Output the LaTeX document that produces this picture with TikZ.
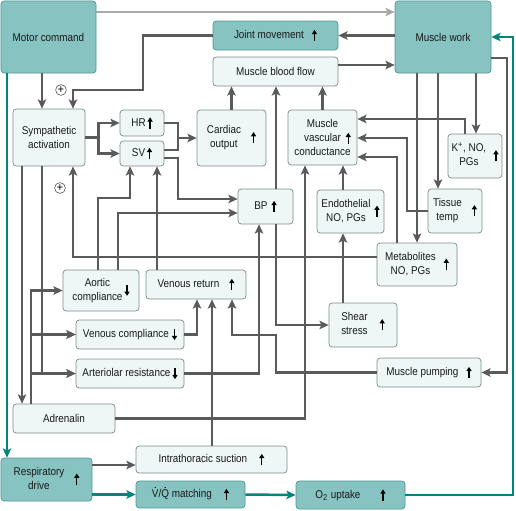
\documentclass[tikz,border=0pt]{standalone}
\usepackage{fontspec}
\setmainfont{Liberation Sans}[FakeStretch=0.88]
\usepackage{tikz}
\usetikzlibrary{arrows.meta}

\definecolor{tealfill}{HTML}{86C3C1}
\definecolor{tealedge}{HTML}{4E9A97}
\definecolor{boxfill}{HTML}{EEF6F6}
\definecolor{boxedge}{HTML}{7E8C8C}
\definecolor{linegray}{HTML}{5A5A5A}
\definecolor{lightline}{HTML}{A8A8A8}
\definecolor{tealline}{HTML}{00857C}

% small up / down marks inside the boxes
\newcommand{\upar}{\tikz[baseline={(0pt,1.8pt)}]\draw[black, sharp corners, line width=0.9pt, -{Triangle[length=3pt,width=3.6pt]}] (0pt,0pt) -- (0pt,8pt);}
\newcommand{\dnar}{\tikz[baseline={(0pt,1.8pt)}]\draw[black, sharp corners, line width=0.9pt, -{Triangle[length=3pt,width=3.6pt]}] (0pt,8pt) -- (0pt,0pt);}
\newcommand{\twoline}[2]{\begin{tabular}{@{}c@{}}#1\\#2\end{tabular}}
\newcommand{\dotted}[1]{\ooalign{#1\cr\hidewidth\tikz[baseline={(0pt,-7.2pt)}]\fill[black] (0pt,0pt) circle (0.5pt);\hidewidth\cr}}

\begin{document}
\begin{tikzpicture}[
  x=0.25mm, y=-0.25mm,
  box/.style={rectangle, draw=boxedge, fill=boxfill, rounded corners=0.8mm, line width=0.5pt,
              align=center, inner sep=1pt, font=\fontsize{8}{10}\selectfont, text=black!90},
  tealbox/.style={box, draw=tealedge, fill=tealfill},
  wh/.style 2 args={minimum width=#1mm, minimum height=#2mm},
  conn/.style={draw=linegray, line width=0.62mm, -{Stealth[length=2.3mm, width=2.1mm, inset=0.5mm]}},
  link/.style={draw=linegray, line width=0.62mm},
  tealconn/.style={conn, draw=tealline},
  greyconn/.style={conn, draw=lightline},
  plus/.style={circle, draw=black!70, fill=white, line width=0.4pt, inner sep=0pt,
               minimum size=2.7mm, font=\fontsize{8.5}{8.5}\selectfont}
]
\path[fill=white] (0,0) rectangle (516,510);

% boxes
\node[tealbox, wh={23.75}{18}] (motor) at (48.5,37) {Motor command};
\node[tealbox, wh={24}{18}] (work) at (443,37) {Muscle work};
\node[tealbox, wh={31.25}{7.25}] (joint) at (275.5,35.5) {Joint movement\hspace{2mm}\upar};
\node[box, wh={31.25}{7.25}] (mbf) at (275.5,71.5) {Muscle blood flow};
\node[box, wh={18}{14.25}] (symp) at (49,137.5) {Sympathetic\\activation};
\node[box, wh={11}{6.5}] (hr) at (142,123) {HR\,\upar};
\node[box, wh={11}{6.25}] (sv) at (142,153.5) {SV\,\upar};
\node[box, wh={17.25}{14}] (co) at (231.5,138) {\twoline{Cardiac}{output}\hspace{2.5mm}\upar};
\node[box, wh={17.25}{13.75}] (mvc) at (322.5,137.5) {Muscle\\vascular\rlap{\hspace{1.2mm}\upar}\\conductance};
\node[box, wh={13.5}{11}] (kno) at (475,156) {\twoline{K\textsuperscript{+}, NO,}{PGs}\hspace{1.8mm}\upar};
\node[box, wh={13.75}{8.75}] (bp) at (265.5,206.5) {BP\hspace{1mm}\upar};
\node[box, wh={16.75}{10.75}] (endo) at (350.5,211.5) {\twoline{Endothelial}{NO, PGs}\hspace{1mm}\upar};
\node[box, wh={13.5}{11}] (tissue) at (455,211) {\twoline{Tissue}{temp}\hspace{2.5mm}\upar};
\node[box, wh={20}{10.75}] (metab) at (417,264.5) {\twoline{Metabolites}{NO, PGs}\hspace{2mm}\upar};
\node[box, wh={19}{10.25}] (aortic) at (101,290.5) {\twoline{Aortic}{compliance}\hspace{0.5mm}\dnar};
\node[box, wh={25}{7.25}] (venret) at (196,284.5) {Venous return\hspace{2.5mm}\upar};
\node[box, wh={17}{11}] (shear) at (363,325) {\twoline{Shear}{stress}\hspace{3mm}\upar};
\node[box, wh={27}{7.25}] (vencomp) at (130,334.5) {Venous compliance\hspace{0.8mm}\dnar};
\node[box, wh={27}{7.25}] (artres) at (130,373.5) {Arteriolar resistance\hspace{0.5mm}\dnar};
\node[box, wh={26}{7.25}] (pumping) at (429,372.5) {Muscle pumping\hspace{2mm}\upar};
\node[box, wh={25.5}{7.25}] (adren) at (64,418.5) {Adrenalin};
\node[box, wh={37.75}{6.75}] (intrath) at (211.5,459.5) {Intrathoracic suction\hspace{3mm}\upar};
\node[tealbox, wh={22.75}{10.75}] (resp) at (46.5,479.5) {\twoline{Respiratory}{drive}\hspace{2.5mm}\upar};
\node[tealbox, wh={27.25}{6.75}] (vq) at (190.5,494.5) {\dotted{V}/\dotted{Q} matching\hspace{3mm}\upar};
\node[tealbox, wh={27.25}{7}] (otwo) at (350.5,495) {O\textsubscript{2} uptake\hspace{5mm}\upar};

\node[plus] (plusa) at (61,90) {+};
\node[plus] (plusb) at (60,188) {+};
\coordinate (cojoin) at (178,138);

% top row
\draw[greyconn] (motor.east |- 0,12) -- (work.west |- 0,12);
\draw[conn] (work.west |- joint.east) -- (joint.east);
\draw[conn] (mbf.east |- 0,65) -- (work.west |- 0,65);
\draw[conn] (joint.west) -| (143,90) -| (symp.north -| 73,0);
\draw[conn] (motor.south -| 42,0) -- (symp.north -| 42,0);
\draw[tealconn] (motor.south -| 7,0) -- (resp.north -| 7,0);

% heart
\draw[conn] (symp.east) -- ++(13,0) |- (hr.west);
\draw[conn] (symp.east) -- ++(13,0) |- (sv.west);
\draw[conn] (hr.east) -| (cojoin) -- (co.west);
\draw[link] (sv.east |- 0,150) -| (cojoin);
\draw[conn] (sv.east |- 0,158) -| (178,199) -- (bp.west |- 0,199);
\draw[conn] (aortic.north -| 118,0) |- (bp.west |- 0,213);
\draw[conn] (aortic.north -| 98,0) |- (130,198) -- (sv.south -| 130,0);
\draw[conn] (venret.north -| 157,0) -- (sv.south -| 157,0);
\draw[conn] (co.north) -- (co.north |- mbf.south);
\draw[conn] (mvc.north) -- (mvc.north |- mbf.south);
\draw[conn] (bp.north -| 276,0) -- (mbf.south -| 276,0);
\draw[conn] (bp.south -| 276,0) |- (shear.west);

% vessels
\draw[conn] (shear.north -| 343,0) -- (endo.south -| 343,0);
\draw[conn] (endo.north -| 343,0) -- (mvc.south -| 343,0);
\draw[conn] (adren.east) -| (mvc.south -| 305,0);
\draw[conn] (kno.north -| 465,0) |- (mvc.east |- 0,119);
\draw[conn] (tissue.west) -| (407,138) -- (mvc.east |- 0,138);
\draw[conn] (metab.north -| 397,0) |- (mvc.east |- 0,157);
\draw[conn] (work.south -| 417,0) -- (metab.north -| 417,0);
\draw[conn] (work.south -| 438,0) -- (tissue.north -| 438,0);
\draw[conn] (work.south -| 476,0) -- (kno.north -| 476,0);
\draw[conn] (work.east |- 0,58) -| (pumping.east -| 507,0) -- (pumping.east);
\draw[conn] (metab.west |- 0,257) -| (symp.south -| 73,0);

% venous side
\draw[conn] (pumping.west) -| (276,335) -| (venret.south -| 232,0);
\draw[conn] (vencomp.east) -| (venret.south -| 197,0);
\draw[conn] (intrath.north -| 212,0) -- (venret.south -| 212,0);
\draw[conn] (artres.east) -| (bp.south -| 259,0);

% sympathetic outflow
\draw[conn] (symp.south -| 22,0) -- (adren.north -| 22,0);
\draw[conn] (symp.south -| 42,0) |- (vencomp.west);
\draw[conn] (symp.south -| 42,0) |- (artres.west);
\draw[conn] (adren.north -| 31,0) |- (aortic.west);
\draw[conn] (adren.north -| 31,0) |- (vencomp.west);
\draw[conn] (adren.north -| 31,0) |- (artres.west);

% breathing
\draw[conn] (resp.east |- 0,465) -- (intrath.west |- 0,465);
\draw[tealconn] (resp.east |- vq.west) -- (vq.west);
\draw[tealconn] (vq.east) -- (otwo.west);
\draw[tealconn] (otwo.east) -| (work.east -| 513,0) -- (work.east);

\end{tikzpicture}
\end{document}
